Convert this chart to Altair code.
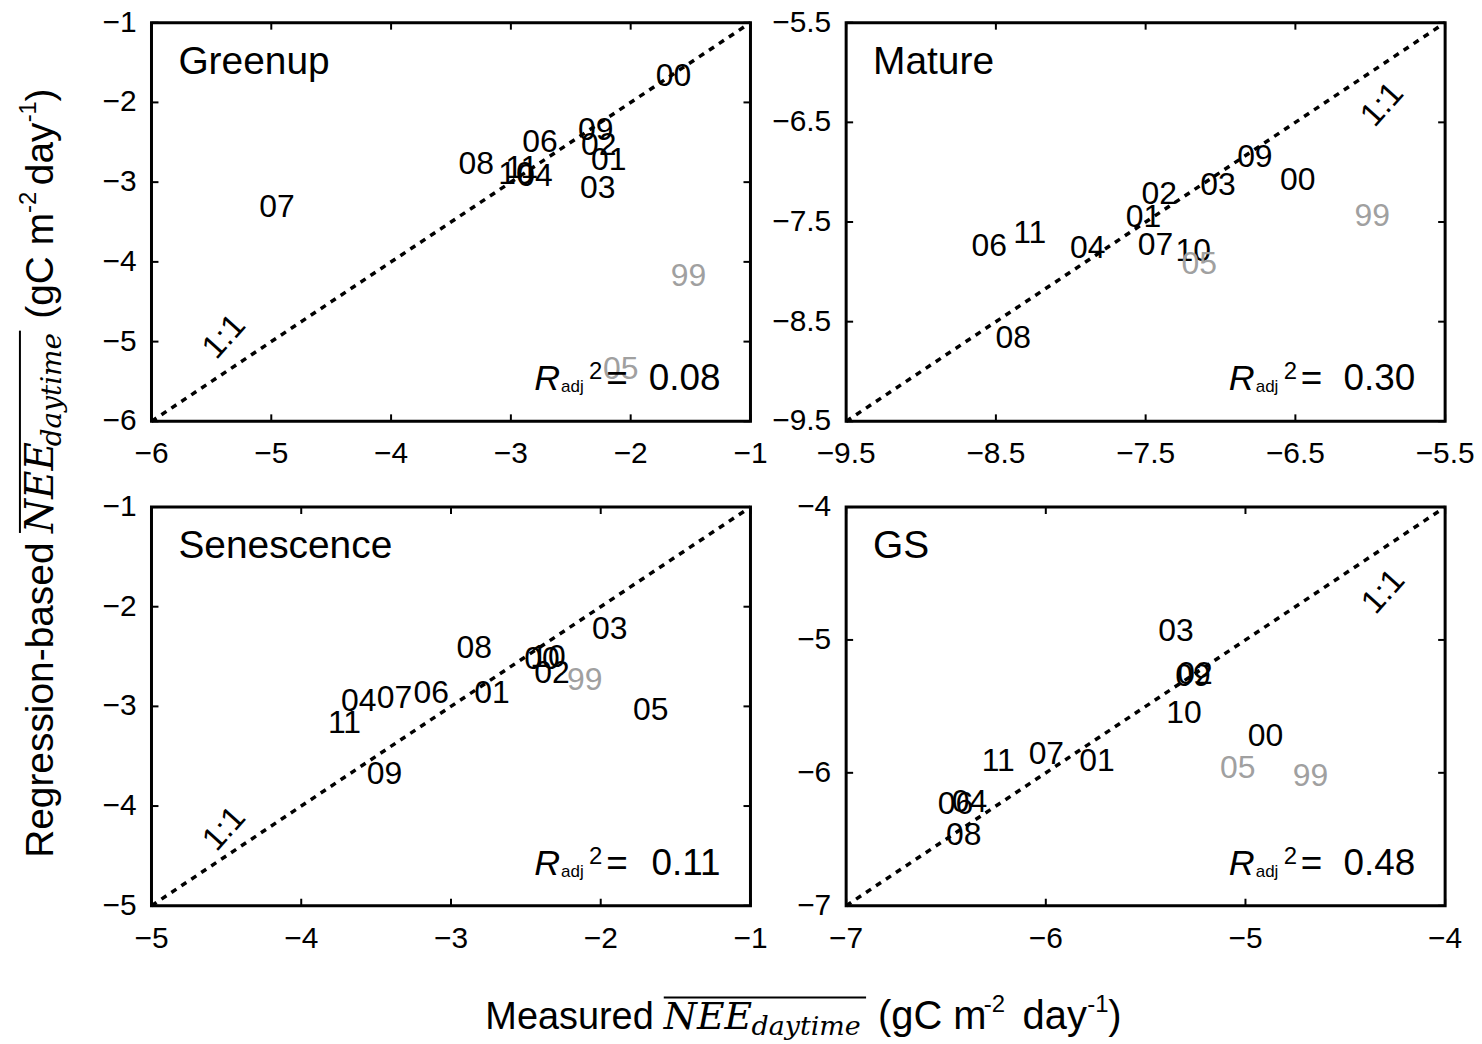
import altair as alt
import pandas as pd

SANS = "Liberation Sans"
SERIF = "DejaVu Serif"
W, H = 601, 400

# ---------------- data ----------------
panel_titles = ["Greenup", "Mature", "Senescence", "GS"]
r2_values = ["0.08", "0.30", "0.11", "0.48"]
axis_ranges = [(-6, -1), (-9.5, -5.5), (-5, -1), (-7, -4)]
tick_values = [[-6, -5, -4, -3, -2, -1],
               [-9.5, -8.5, -7.5, -6.5, -5.5],
               [-5, -4, -3, -2, -1],
               [-7, -6, -5, -4]]
tick_formats = ["d", ".1f", "d", "d"]
one_to_one_x = [-5.393, -5.919, -4.514, -4.309]
one_to_one_y = [-4.94, -6.322, -4.23, -4.638]

# Greenup
g_years = ["00", "06", "09", "02", "01", "08", "10", "11", "04", "03", "07", "99", "05"]
g_meas = [-1.79, -2.905, -2.44, -2.414, -2.331, -3.438, -3.105, -3.047, -2.947, -2.423, -5.10, -1.666, -2.231]
g_reg = [-1.675, -2.50, -2.35, -2.54, -2.725, -2.775, -2.90, -2.825, -2.925, -3.075, -3.3125, -4.175, -5.35]
g_grey = ["99", "05"]

# Mature
m_years = ["09", "00", "03", "02", "01", "99", "11", "06", "04", "07", "10", "05", "08"]
m_meas = [-6.889, -6.603, -7.135, -7.527, -7.633, -6.105, -8.384, -8.663, -8.005, -7.553, -7.30, -7.261, -8.503]
m_reg = [-6.853, -7.074, -7.124, -7.224, -7.455, -7.445, -7.615, -7.746, -7.766, -7.736, -7.796, -7.926, -8.668]
m_grey = ["99", "05"]

# Senescence
s_years = ["03", "08", "00", "10", "02", "99", "05", "04", "07", "06", "01", "11", "09"]
s_meas = [-2.058, -2.963, -2.51, -2.47, -2.444, -2.225, -1.785, -3.735, -3.496, -3.25, -2.844, -3.822, -3.562]
s_reg = [-2.22, -2.41, -2.52, -2.50, -2.67, -2.74, -3.04, -2.95, -2.92, -2.87, -2.87, -3.17, -3.68]
s_grey = ["99"]

# GS
gs_years = ["03", "09", "02", "10", "00", "11", "07", "01", "05", "99", "06", "04", "08"]
gs_meas = [-5.437, -5.352, -5.342, -5.397, -4.988, -6.321, -6.086, -5.832, -5.128, -4.763, -6.541, -6.471, -6.50]
gs_reg = [-4.93, -5.268, -5.26, -5.553, -5.725, -5.913, -5.86, -5.913, -5.966, -6.025, -6.236, -6.22, -6.468]
gs_grey = ["05", "99"]

ONE = pd.DataFrame({"k": [0]})


def txt(text, x, y, size, font=SANS, style="normal", align="left", baseline="alphabetic", angle=0):
    kw = dict(text=text, font=font, fontSize=size, fontStyle=style, align=align,
              baseline=baseline, color="black")
    if angle:
        kw["angle"] = angle
    return alt.Chart(ONE).mark_text(**kw).encode(x=alt.value(x), y=alt.value(y))


def panel(i, years, meas, reg, grey, extra=()):
    lo, hi = axis_ranges[i]
    ticks = tick_values[i]
    fmt = tick_formats[i]
    xs = alt.Scale(domain=[lo, hi], nice=False, zero=False)
    ys = alt.Scale(domain=[lo, hi], nice=False, zero=False)
    df = pd.DataFrame({"year": years, "meas": meas, "reg": reg})
    df["grp"] = ["grey" if y in grey else "black" for y in years]

    line = alt.Chart(pd.DataFrame({"v": [lo, hi]})).mark_line(
        color="black", strokeWidth=3.5, strokeDash=[6, 6]
    ).encode(x=alt.X("v:Q", scale=xs, axis=None), y=alt.Y("v:Q", scale=ys, axis=None))

    pts = alt.Chart(df).mark_text(
        align="left", baseline="middle", font=SANS, fontSize=32
    ).encode(
        x=alt.X("meas:Q", scale=xs, axis=None),
        y=alt.Y("reg:Q", scale=ys, axis=None),
        text="year:N",
        color=alt.Color("grp:N", scale=alt.Scale(domain=["black", "grey"],
                                                 range=["#000000", "#a0a0a0"]), legend=None),
    )

    tdf = pd.DataFrame({"t": ticks})
    tk = alt.Chart(tdf).mark_rule(color="black", strokeWidth=2)
    tx = alt.X("t:Q", scale=xs, axis=None)
    ty = alt.Y("t:Q", scale=ys, axis=None)
    t_bottom = tk.encode(x=tx, y=alt.value(H), y2=alt.value(H - 7))
    t_top = tk.encode(x=tx, y=alt.value(0), y2=alt.value(7))
    t_left = tk.encode(y=ty, x=alt.value(0), x2=alt.value(7))
    t_right = tk.encode(y=ty, x=alt.value(W), x2=alt.value(W - 7))

    lab = alt.Chart(tdf)
    x_labels = lab.mark_text(font=SANS, fontSize=30, align="center", baseline="top",
                             color="black").encode(
        x=tx, y=alt.value(H + 18), text=alt.Text("t:Q", format=fmt))
    y_labels = lab.mark_text(font=SANS, fontSize=30, align="right", baseline="middle",
                             color="black").encode(
        y=ty, x=alt.value(-15), text=alt.Text("t:Q", format=fmt))

    one = alt.Chart(pd.DataFrame({"x": [one_to_one_x[i]], "y": [one_to_one_y[i]]})).mark_text(
        text="1:1", angle=312, font=SANS, fontSize=33, align="center", baseline="middle",
        color="black"
    ).encode(x=alt.X("x:Q", scale=xs, axis=None), y=alt.Y("y:Q", scale=ys, axis=None))

    title = txt(panel_titles[i], 27, 51, 39)

    r_R = txt("R", 384, H - 31, 36, style="italic")
    r_adj = txt("adj", 411, H - 29, 17)
    r_2 = txt("2", 439, H - 42, 24)
    r_eq = txt("=", 467, H - 31, 37, align="center")
    r_val = txt(r2_values[i], W - 30, H - 31, 37, align="right")

    return alt.layer(line, pts, t_bottom, t_top, t_left, t_right, x_labels, y_labels,
                     one, title, r_R, r_adj, r_2, r_eq, r_val, *extra
                     ).properties(width=W, height=H)


# overall y title (relative to top-left panel)
ytitle = [
    txt("Regression-based", -99, 838, 39, angle=270),
    txt("NEE", -99, 512, 39, font=SERIF, style="italic", angle=270),
    txt("daytime", -91, 425, 28, font=SERIF, style="italic", angle=270),
    txt("(gC m", -99, 297, 39, angle=270),
    txt("-2", -116, 191, 24, angle=270),
    txt("day", -99, 163, 39, angle=270),
    txt("-1", -116, 100, 24, angle=270),
    txt(")", -99, 79, 39, angle=270),
    alt.Chart(ONE).mark_rule(color="black", strokeWidth=2).encode(
        x=alt.value(-132), y=alt.value(309), y2=alt.value(512)),
]

# overall x title (relative to bottom-left panel)
xtitle = [
    txt("Measured", 335, 524, 38),
    txt("NEE", 514, 524, 38, font=SERIF, style="italic"),
    txt("daytime", 602, 530, 27, font=SERIF, style="italic"),
    txt("(gC m", 729, 524, 40),
    txt("-2", 835, 507, 24),
    txt("day", 874, 524, 40),
    txt("-1", 939, 507, 24),
    txt(")", 960, 524, 40),
    alt.Chart(ONE).mark_rule(color="black", strokeWidth=2).encode(
        x=alt.value(514), x2=alt.value(717), y=alt.value(492)),
]

p1 = panel(0, g_years, g_meas, g_reg, g_grey, ytitle)
p2 = panel(1, m_years, m_meas, m_reg, m_grey)
p3 = panel(2, s_years, s_meas, s_reg, s_grey, xtitle)
p4 = panel(3, gs_years, gs_meas, gs_reg, gs_grey)

chart = alt.concat(
    p1, p2, p3, p4, columns=2, spacing={"row": 86, "column": 96}, bounds="flush"
).properties(
    padding={"left": 15, "top": 4, "right": 5, "bottom": 0}, background="white"
).configure_view(
    stroke="black", strokeWidth=3
)

chart.save("out.html", embed_options={"renderer": "svg", "actions": False})
